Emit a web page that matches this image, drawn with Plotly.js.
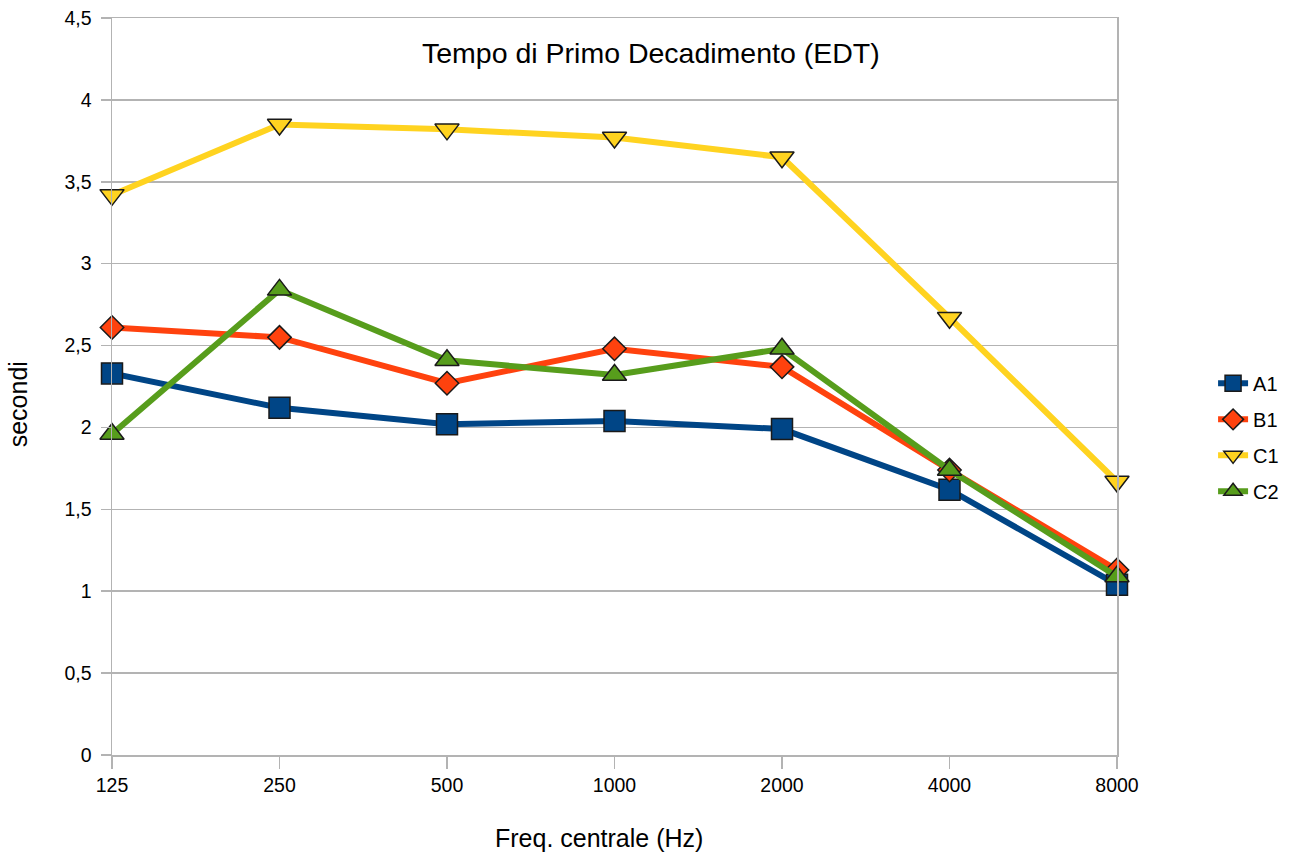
<!DOCTYPE html>
<html>
<head>
<meta charset="utf-8">
<script src="https://cdn.plot.ly/plotly-3.0.1.min.js"></script>
<style>html,body{margin:0;padding:0;background:#fff;}#chart{width:1295px;height:856px;}</style>
</head>
<body>
<div id="chart"></div>
<script>
const categories = ["125", "250", "500", "1000", "2000", "4000", "8000"];
const A1 = [2.33, 2.12, 2.02, 2.04, 1.99, 1.62, 1.04];
const B1 = [2.61, 2.55, 2.27, 2.48, 2.37, 1.74, 1.13];
const C1 = [3.42, 3.85, 3.82, 3.77, 3.65, 2.67, 1.67];
const C2 = [1.96, 2.84, 2.41, 2.32, 2.48, 1.74, 1.09];
const yTickVals = [0, 0.5, 1, 1.5, 2, 2.5, 3, 3.5, 4, 4.5];
const yTickText = ["0", "0,5", "1", "1,5", "2", "2,5", "3", "3,5", "4", "4,5"];

const FONT = "Liberation Sans, Arial, sans-serif";
function tr(name, y, color, symbol, size) {
  return {
    type: "scatter", mode: "lines+markers", name: name, legendgroup: name,
    x: categories, y: y, cliponaxis: false,
    line: {color: color, width: 6},
    marker: {symbol: symbol, size: size, color: color, line: {color: "#1a1a1a", width: 1.5}}
  };
}
const data = [
  tr("A1", A1, "#004586", "square", 21),
  tr("B1", B1, "#ff420e", "diamond", 18),
  tr("C1", C1, "#ffd320", "triangle-down", 21),
  tr("C2", C2, "#579d1c", "triangle-up", 21)
];
const layout = {
  width: 1295, height: 856,
  margin: {l: 112, r: 177, t: 18, b: 101},
  paper_bgcolor: "#fff", plot_bgcolor: "#fff",
  font: {family: FONT, size: 19, color: "#000"},
  showlegend: true,
  legend: {x: 1.0945, y: 0.431, xanchor: "left", yanchor: "middle", font: {size: 20},
           traceorder: "grouped", tracegroupgap: 7, itemwidth: 30, bgcolor: "rgba(0,0,0,0)"},
  xaxis: {
    type: "category", range: [0, 6],
    showgrid: false, showline: true, mirror: true, linecolor: "#b3b3b3", linewidth: 1.5,
    ticks: "outside", ticklen: 12, tickcolor: "#b3b3b3", tickwidth: 1.5,
    tickfont: {size: 19.5},
    zeroline: false
  },
  yaxis: {
    range: [0, 4.5], tickvals: yTickVals, ticktext: yTickText,
    showgrid: true, gridcolor: "#b3b3b3", gridwidth: 1.5,
    showline: true, mirror: true, linecolor: "#b3b3b3", linewidth: 1.5,
    ticks: "outside", ticklen: 10, tickcolor: "#b3b3b3", tickwidth: 1.5,
    tickfont: {size: 19.5}, ticklabelstandoff: 5,
    zeroline: false
  },
  annotations: [
    {text: "Tempo di Primo Decadimento (EDT)", xref: "paper", yref: "paper",
     x: 0.536, y: 0.9525, xanchor: "center", yanchor: "middle", showarrow: false,
     font: {size: 28.5, family: FONT}},
    {text: "Freq. centrale (Hz)", xref: "paper", yref: "paper",
     x: 0.485, y: -0.1126, xanchor: "center", yanchor: "middle", showarrow: false,
     font: {size: 25, family: FONT}},
    {text: "secondi", xref: "paper", yref: "paper", textangle: -90,
     x: -0.0934, y: 0.476, xanchor: "center", yanchor: "middle", showarrow: false,
     font: {size: 25, family: FONT}}
  ]
};
Plotly.newPlot("chart", data, layout, {displayModeBar: false, staticPlot: true});
</script>
</body>
</html>
